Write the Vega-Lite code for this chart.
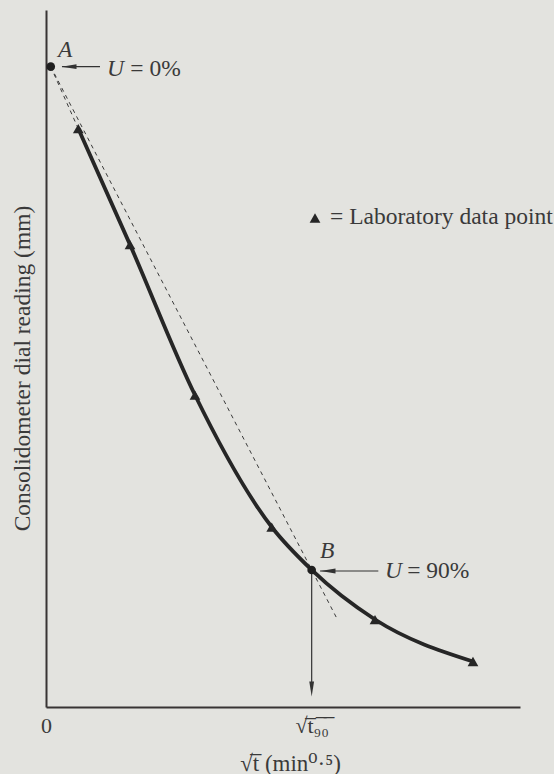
{
  "$schema": "https://vega.github.io/schema/vega-lite/v6.json",
  "width": 474,
  "height": 697,
  "autosize": "none",
  "padding": {"left": 46, "top": 10, "right": 34, "bottom": 67},
  "background": "#e3e3df",
  "config": {"view": {"stroke": null}, "font": "Liberation Serif, DejaVu Serif"},
  "datasets": {
    "curve": [
      {"x": 0.681, "y": 1.703},
      {"x": 1.772, "y": 3.366},
      {"x": 3.143, "y": 5.524},
      {"x": 4.762, "y": 7.418},
      {"x": 5.605, "y": 8.034},
      {"x": 6.941, "y": 8.745},
      {"x": 9.008, "y": 9.347}
    ],
    "extrap": [{"x": 0.1, "y": 0.813}, {"x": 0.681, "y": 1.703}],
    "tangent": [{"x": 0.1, "y": 0.813}, {"x": 6.16, "y": 8.76}],
    "lab": [
      {"x": 0.681, "y": 1.703},
      {"x": 1.772, "y": 3.366},
      {"x": 3.143, "y": 5.524},
      {"x": 4.762, "y": 7.418},
      {"x": 6.941, "y": 8.745},
      {"x": 9.008, "y": 9.347},
      {"x": 5.675, "y": 2.984}
    ],
    "dots": [{"x": 0.1, "y": 0.813}, {"x": 5.605, "y": 8.034}],
    "shafts": [
      {"x": 0.338, "y": 0.813, "x2": 1.139, "y2": 0.813},
      {"x": 5.781, "y": 8.049, "x2": 7.011, "y2": 8.049},
      {"x": 5.605, "y": 8.034, "x2": 5.605, "y2": 9.742}
    ],
    "heads": [
      {"x": 0.485, "y": 0.813, "dir": "left"},
      {"x": 5.949, "y": 8.049, "dir": "left"},
      {"x": 5.605, "y": 9.742, "dir": "down"}
    ],
    "italic": [
      {"x": 0.253, "y": 0.674, "label": "A"},
      {"x": 5.781, "y": 7.862, "label": "B"},
      {"x": 1.287, "y": 0.94, "label": "U"},
      {"x": 7.152, "y": 8.156, "label": "U"}
    ],
    "plain": [
      {"x": 1.78, "y": 0.94, "label": "= 0%"},
      {"x": 7.62, "y": 8.156, "label": "= 90%"},
      {"x": 5.992, "y": 3.07, "label": "= Laboratory data point"}
    ]
  },
  "encoding": {
    "x": {
      "field": "x",
      "type": "quantitative",
      "scale": {"domain": [0, 10], "nice": false, "zero": false},
      "axis": {
        "values": [0, 5.605],
        "labelExpr": "datum.value == 0 ? '0' : '√t̅₉̅₀̅'",
        "domainColor": "#383434",
        "domainWidth": 2,
        "ticks": false,
        "grid": false,
        "labelFont": "Liberation Serif, DejaVu Serif",
        "labelFontSize": 22,
        "labelColor": "#3a3a3a",
        "labelPadding": 8,
        "labelFlush": false,
        "labelOverlap": false,
        "title": "√t̅  (min⁰·⁵)",
        "titleFont": "Liberation Serif, DejaVu Serif",
        "titleFontSize": 23,
        "titleFontWeight": "normal",
        "titleColor": "#3a3a3a",
        "titleX": 244,
        "titleY": 63,
        "titleBaseline": "alphabetic",
        "titleAlign": "center"
      }
    },
    "y": {
      "field": "y",
      "type": "quantitative",
      "scale": {"domain": [0, 10], "nice": false, "zero": false, "reverse": true},
      "axis": {
        "domainColor": "#383434",
        "domainWidth": 2,
        "ticks": false,
        "labels": false,
        "grid": false,
        "title": "Consolidometer dial reading (mm)",
        "titleFont": "Liberation Serif, DejaVu Serif",
        "titleFontSize": 23.5,
        "titleFontWeight": "normal",
        "titleColor": "#3a3a3a",
        "titleAngle": -90,
        "titleX": -17,
        "titleY": 358,
        "titleBaseline": "alphabetic",
        "titleAlign": "center"
      }
    }
  },
  "layer": [
    {
      "data": {"name": "tangent"},
      "mark": {"type": "line", "color": "#3a3a3a", "strokeWidth": 1, "strokeDash": [4, 4], "clip": false}
    },
    {
      "data": {"name": "extrap"},
      "mark": {"type": "line", "color": "#3a3a3a", "strokeWidth": 1, "strokeDash": [4, 4], "clip": false}
    },
    {
      "data": {"name": "curve"},
      "mark": {"type": "line", "color": "#262626", "strokeWidth": 3.8, "interpolate": "monotone", "clip": false}
    },
    {
      "data": {"name": "shafts"},
      "mark": {"type": "rule", "color": "#333333", "strokeWidth": 1.2},
      "encoding": {"x2": {"field": "x2"}, "y2": {"field": "y2"}}
    },
    {
      "data": {"name": "heads"},
      "mark": {"type": "point", "filled": true, "opacity": 1, "color": "#333333", "size": 225},
      "encoding": {
        "shape": {
          "field": "dir",
          "type": "nominal",
          "scale": {"domain": ["left", "down"], "range": ["M-1,0L1,-0.32L1,0.32Z", "M0,1L-0.32,-1L0.32,-1Z"]},
          "legend": null
        }
      }
    },
    {
      "data": {"name": "lab"},
      "mark": {"type": "point", "shape": "triangle-up", "filled": true, "opacity": 1, "color": "#262626", "size": 115}
    },
    {
      "data": {"name": "dots"},
      "mark": {"type": "point", "shape": "circle", "filled": true, "opacity": 1, "color": "#1f1f1f", "size": 75}
    },
    {
      "data": {"name": "italic"},
      "mark": {"type": "text", "align": "left", "baseline": "alphabetic", "fontSize": 23.5, "fontStyle": "italic", "font": "Liberation Serif, DejaVu Serif", "color": "#3a3a3a"},
      "encoding": {"text": {"field": "label"}}
    },
    {
      "data": {"name": "plain"},
      "mark": {"type": "text", "align": "left", "baseline": "alphabetic", "fontSize": 23.5, "font": "Liberation Serif, DejaVu Serif", "color": "#3a3a3a"},
      "encoding": {"text": {"field": "label"}}
    }
  ]
}
